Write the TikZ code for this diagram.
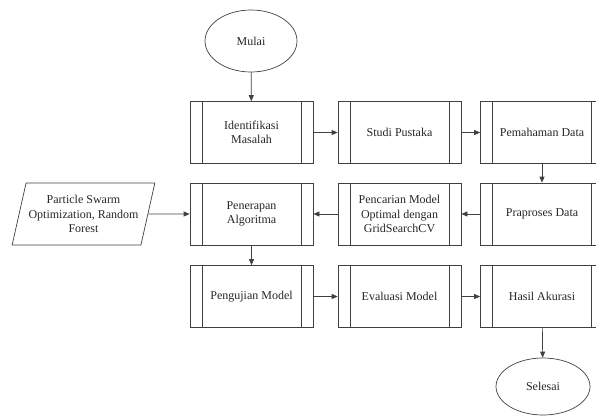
\documentclass[tikz,border=0pt]{standalone}
\usepackage{fontspec}
\setmainfont{Liberation Serif}
\usetikzlibrary{shapes.geometric,arrows.meta}

\tikzset{
  line/.style={draw=black!75, line width=0.7pt},
  arr/.style={line, -{Triangle[length=6pt,width=5pt]}},
  terminal/.style={line, ellipse, minimum width=92pt, minimum height=62pt, inner sep=0pt},
  subproc/.style={line, rectangle, minimum width=123pt, minimum height=62pt, align=center,
    path picture={
      \draw[black!75, line width=0.7pt] ([xshift=12pt]path picture bounding box.north west) -- ([xshift=12pt]path picture bounding box.south west);
      \draw[black!75, line width=0.7pt] ([xshift=-12pt]path picture bounding box.north east) -- ([xshift=-12pt]path picture bounding box.south east);
    }},
  dataio/.style={line, trapezium, trapezium left angle=71, trapezium right angle=109,
    trapezium stretches=true, minimum width=143pt, minimum height=62pt, align=center, inner sep=1pt}
}

\begin{document}
\begin{tikzpicture}[font=\fontsize{12}{14.5}\selectfont, text=black!85]
    \clip (0,0) rectangle (596pt,416pt);

    % Start and end
    \node[terminal] (mulai) at (251pt,375pt) {Mulai};
    \node[terminal, minimum width=94pt, minimum height=57pt] (selesai) at (543pt,29.5pt) {Selesai};

    % First row
    \node[subproc] (identifikasi) at (251.5pt,283.5pt) {Identifikasi\\Masalah};
    \node[subproc] (studi) at (399.5pt,283.5pt) {Studi Pustaka};
    \node[subproc] (pemahaman) at (542pt,283.5pt) {Pemahaman Data};

    % Second row
    \node[dataio] (pso) at (83.5pt,202pt) {Particle Swarm\\Optimization, Random\\Forest};
    \node[subproc] (penerapan) at (251.5pt,202pt) {Penerapan\\Algoritma};
    \node[subproc] (pencarian) at (399.5pt,202pt) {Pencarian Model\\Optimal dengan\\GridSearchCV};
    \node[subproc] (praproses) at (542pt,202pt) {Praproses Data};

    % Third row
    \node[subproc] (pengujian) at (251.5pt,119.5pt) {Pengujian Model};
    \node[subproc] (evaluasi) at (399.5pt,119.5pt) {Evaluasi Model};
    \node[subproc] (hasil) at (542pt,119.5pt) {Hasil Akurasi};

    % Flow
    \draw[arr] (mulai) -- (identifikasi);
    \draw[arr] (identifikasi) -- (studi);
    \draw[arr] (studi) -- (pemahaman);
    \draw[arr] (pemahaman) -- (praproses);
    \draw[arr] (praproses) -- (pencarian);
    \draw[arr] (pencarian) -- (penerapan);
    \draw[arr] (pso) -- (penerapan);
    \draw[arr] (penerapan) -- (pengujian);
    \draw[arr] (pengujian) -- (evaluasi);
    \draw[arr] (evaluasi) -- (hasil);
    \draw[arr] (hasil) -- (selesai);

\end{tikzpicture}
\end{document}
